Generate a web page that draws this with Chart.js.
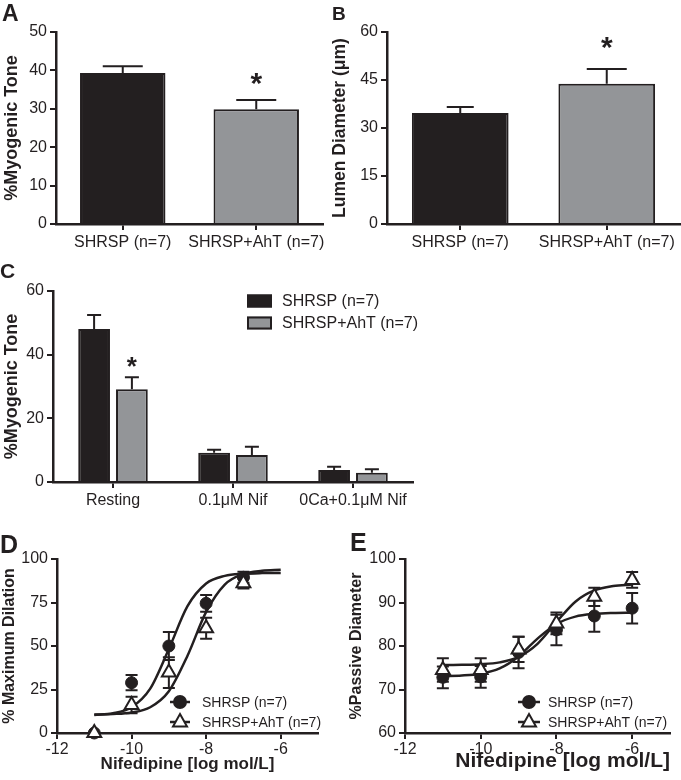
<!DOCTYPE html>
<html>
<head>
<meta charset="utf-8">
<script src="https://cdn.jsdelivr.net/npm/chart.js@4.4.0/dist/chart.umd.min.js"></script>
<style>
  body { margin: 0; background: #fff; }
  #fig { position: relative; width: 681px; height: 780px; overflow: hidden; background: #fff;
         font-family: "Liberation Sans", Arial, sans-serif; color: #231f20; }
  #fig canvas { position: absolute; }
  .letter { position: absolute; font-weight: bold; line-height: 1; }
</style>
</head>
<body>
<div id="fig">
  <canvas id="chartA" width="330" height="262" style="left:0;top:0"></canvas>
  <canvas id="chartB" width="351" height="262" style="left:330px;top:0"></canvas>
  <canvas id="chartC" width="681" height="262" style="left:0;top:262px"></canvas>
  <canvas id="chartD" width="340" height="256" style="left:0;top:524px"></canvas>
  <canvas id="chartE" width="341" height="256" style="left:340px;top:524px"></canvas>
  <div class="letter" style="left:2px;top:2px;font-size:23px">A</div>
  <div class="letter" style="left:332px;top:4px;font-size:19px">B</div>
  <div class="letter" style="left:0px;top:260px;font-size:21px">C</div>
  <div class="letter" style="left:0px;top:532px;font-size:25px">D</div>
  <div class="letter" style="left:350px;top:530px;font-size:25px">E</div>
</div>
<script>
// ---- data ----
const groupLabels = ["SHRSP (n=7)", "SHRSP+AhT (n=7)"];

// A: % myogenic tone
const toneA = [39.3, 29.9];
const toneAErr = [1.8, 2.4];

// B: lumen diameter (um)
const diamB = [34.7, 43.8];
const diamBErr = [1.9, 4.6];

// C: % myogenic tone by condition
const condLabels = ["Resting", "0.1\u03bcM Nif", "0Ca+0.1\u03bcM Nif"];
const toneShrsp = [48.1, 9.2, 3.8];
const toneShrspErr = [4.4, 0.9, 1.0];
const toneAht = [29.1, 8.5, 2.9];
const toneAhtErr = [3.8, 2.6, 1.1];

// D: % maximum dilation vs nifedipine
const doseD = [-11, -10, -9, -8, -7];
const dilShrsp = [0, 28.9, 50, 74.5, 89.5];
const dilShrspErr = [0, 4.4, 8, 4.8, 3.2];
const dilAht = [0, 16.1, 34.7, 60.2, 86];
const dilAhtErr = [0, 4.8, 8.8, 6, 3];

// E: % passive diameter vs nifedipine
const doseE = [-11, -10, -9, -8, -7, -6];
const passShrsp = [72.8, 72.9, 78.5, 83.7, 86.9, 88.7];
const passShrspErr = [2.5, 2.5, 3.6, 3.5, 3.6, 3.5];
const passAht = [74.5, 74.5, 79.2, 85.2, 91.3, 95.2];
const passAhtErr = [2.7, 2.7, 2.9, 2.5, 2.1, 1.8];

// fitted curves, read at half-log steps
const fitX = [-11, -10.5, -10, -9.5, -9, -8.5, -8, -7.5, -7, -6.5, -6];
const fitDShrsp = [10.4, 11.3, 14.8, 25.5, 48.3, 72.9, 85.9, 90.3, 91.5, 91.9, 92];
const fitDAht = [10.6, 10.9, 11.8, 14.8, 24.0, 44.4, 69.6, 85.3, 91.4, 93.2, 93.8];
const fitEShrsp = [73.07, 73.21, 73.64, 74.86, 77.61, 81.7, 85.06, 86.75, 87.38, 87.6, 87.67];
const fitEAht = [75.62, 75.67, 75.81, 76.24, 77.49, 80.5, 85.49, 90.19, 92.77, 93.79, 94.13];

const doseTicks = [-12, -10, -8, -6];

// ---- styles ----
const ink = "#231f20";
const black = "#231f20";
const gray = "#939598";
const fontFam = '"Liberation Sans", Arial, sans-serif';

Chart.defaults.font.family = fontFam;
Chart.defaults.font.size = 16;
Chart.defaults.color = ink;

function pairs(xs, ys) {
  return xs.map((x, i) => ({ x: x, y: ys[i] }));
}

// error bars (and significance stars) drawn from each dataset's own errors
const errorBars = {
  id: "errorBars",
  beforeDatasetsDraw(chart) {
    const ctx = chart.ctx;
    chart.data.datasets.forEach((ds, i) => {
      if (!ds.errors) return;
      const meta = chart.getDatasetMeta(i);
      const yScale = chart.scales[meta.yAxisID];
      meta.data.forEach((el, j) => {
        const err = ds.errors[j];
        const raw = ds.data[j];
        const v = typeof raw === "object" ? raw.y : raw;
        const x = el.x;
        const cap = Array.isArray(ds.capHalf) ? ds.capHalf[j] : ds.capHalf;
        let top = yScale.getPixelForValue(v + err);
        ctx.save();
        ctx.strokeStyle = ink;
        ctx.lineWidth = 2;
        if (err) {
          const bottom = ds.upOnly ? el.y : yScale.getPixelForValue(v - err);
          ctx.beginPath();
          ctx.moveTo(x, bottom);
          ctx.lineTo(x, top);
          ctx.moveTo(x - cap, top);
          ctx.lineTo(x + cap, top);
          if (!ds.upOnly) {
            ctx.moveTo(x - cap, bottom);
            ctx.lineTo(x + cap, bottom);
          }
          ctx.stroke();
        }
        if (ds.stars && ds.stars[j]) {
          ctx.font = ds.starFont;
          ctx.fillStyle = ink;
          ctx.textAlign = "center";
          ctx.textBaseline = "alphabetic";
          const m = ctx.measureText("*");
          const cy = top - ds.starGap;
          ctx.fillText("*", x, cy + (m.actualBoundingBoxAscent - m.actualBoundingBoxDescent) / 2);
        }
        ctx.restore();
      });
    });
  }
};

// box legend for panel C
const boxLegend = {
  id: "boxLegend",
  afterDraw(chart, args, opts) {
    if (!opts.show) return;
    const ctx = chart.ctx;
    chart.data.datasets.forEach((ds, i) => {
      const y = opts.y + i * opts.rowH;
      ctx.save();
      ctx.fillStyle = ds.backgroundColor;
      ctx.fillRect(opts.x, y - opts.boxH / 2, opts.boxW, opts.boxH);
      ctx.strokeStyle = ink;
      ctx.lineWidth = 2;
      ctx.strokeRect(opts.x + 1, y - opts.boxH / 2 + 1, opts.boxW - 2, opts.boxH - 2);
      ctx.fillStyle = ink;
      ctx.font = opts.font;
      ctx.textBaseline = "middle";
      ctx.fillText(ds.label, opts.x + opts.textOff, y + 1);
      ctx.restore();
    });
  }
};

function drawMarker(ctx, style, x, y, r, fill) {
  ctx.beginPath();
  if (style === "triangle") {
    const side = r * 1.75;
    ctx.moveTo(x, y - r);
    ctx.lineTo(x + side / 2, y + r * 0.55);
    ctx.lineTo(x - side / 2, y + r * 0.55);
    ctx.closePath();
  } else {
    ctx.arc(x, y, r, 0, Math.PI * 2);
  }
  ctx.fillStyle = fill;
  ctx.fill();
  ctx.lineWidth = 2;
  ctx.strokeStyle = ink;
  ctx.stroke();
}

// line + marker legend for panels D and E
const markerLegend = {
  id: "markerLegend",
  afterDraw(chart, args, opts) {
    if (!opts.show) return;
    const ctx = chart.ctx;
    let row = 0;
    chart.data.datasets.forEach((ds) => {
      if (!ds.label) return;
      const y = opts.y + row * opts.rowH;
      ctx.save();
      ctx.strokeStyle = ink;
      ctx.lineWidth = 2.5;
      ctx.beginPath();
      ctx.moveTo(opts.x, y);
      ctx.lineTo(opts.x + opts.lineLen, y);
      ctx.stroke();
      drawMarker(ctx, ds.pointStyle, opts.x + opts.lineLen / 2, y, ds.legendR, ds.pointBackgroundColor);
      ctx.fillStyle = ink;
      ctx.font = opts.font;
      ctx.textBaseline = "middle";
      ctx.fillText(ds.label, opts.x + opts.textOff, y + 1);
      ctx.restore();
      row++;
    });
  }
};

function valueAxis(min, max, step, title, width, titleSize, titlePad) {
  return {
    min: min,
    max: max,
    ticks: { stepSize: step, padding: 3, color: ink, font: { size: 16 } },
    grid: { display: true, drawOnChartArea: false, drawTicks: true, tickLength: 6, lineWidth: 2, color: ink },
    border: { display: true, width: 2.5, color: ink },
    title: { display: true, text: title, color: ink, font: { size: titleSize, weight: "bold" }, padding: { top: titlePad, bottom: 0 } },
    afterFit(scale) { scale.width = width; }
  };
}

function categoryAxis(height) {
  return {
    offset: true,
    ticks: { padding: 3, color: ink, font: { size: 16 }, maxRotation: 0, minRotation: 0, autoSkip: false },
    grid: { display: true, offset: false, drawOnChartArea: false, drawTicks: true, tickLength: 6, lineWidth: 2, color: ink },
    border: { display: true, width: 2.5, color: ink },
    afterFit(scale) { scale.height = height; }
  };
}

function doseAxis(height, titleSize, titleAlign, titlePad) {
  return {
    type: "linear",
    min: -12,
    max: -5,
    afterBuildTicks(scale) { scale.ticks = doseTicks.map(v => ({ value: v })); },
    ticks: { padding: 1, color: ink, font: { size: 16 } },
    grid: { display: true, drawOnChartArea: false, drawTicks: true, tickLength: 6, lineWidth: 2, color: ink },
    border: { display: true, width: 2.5, color: ink },
    title: { display: true, text: "Nifedipine [log mol/L]", align: titleAlign, color: ink, font: { size: titleSize, weight: "bold" }, padding: { top: 0, bottom: titlePad } },
    afterFit(scale) { scale.height = height; }
  };
}

function baseOptions(padding, xAxis, yAxis, extraPlugins) {
  return {
    responsive: false,
    animation: false,
    layout: { padding: padding },
    scales: { x: xAxis, y: yAxis },
    plugins: Object.assign({ legend: { display: false }, tooltip: { enabled: false } }, extraPlugins || {})
  };
}

// ---- panel A ----
new Chart(document.getElementById("chartA"), {
  type: "bar",
  data: {
    labels: groupLabels,
    datasets: [{
      data: toneA, errors: toneAErr, upOnly: true, capHalf: 20,
      stars: [false, true], starFont: "bold 30px " + fontFam, starGap: 21,
      backgroundColor: [black, gray], borderColor: ink, borderWidth: 2,
      barPercentage: 0.64, categoryPercentage: 1
    }]
  },
  options: baseOptions({ top: 32, right: 7, left: 0, bottom: 0 },
    categoryAxis(38), valueAxis(0, 50, 10, "%Myogenic Tone", 56, 18, 1)),
  plugins: [errorBars]
});

// ---- panel B ----
new Chart(document.getElementById("chartB"), {
  type: "bar",
  data: {
    labels: groupLabels,
    datasets: [{
      data: diamB, errors: diamBErr, upOnly: true, capHalf: [13.5, 20],
      stars: [false, true], starFont: "bold 30px " + fontFam, starGap: 26,
      backgroundColor: [black, gray], borderColor: ink, borderWidth: 2,
      barPercentage: 0.66, categoryPercentage: 1
    }]
  },
  options: baseOptions({ top: 32, right: 1, left: 0, bottom: 0 },
    categoryAxis(38), valueAxis(0, 60, 15, "Lumen Diameter (\u03bcm)", 57, 17.5, 0)),
  plugins: [errorBars]
});

// ---- panel C ----
new Chart(document.getElementById("chartC"), {
  type: "bar",
  data: {
    labels: condLabels,
    datasets: [
      { label: "SHRSP (n=7)", data: toneShrsp, errors: toneShrspErr, upOnly: true, capHalf: 7,
        backgroundColor: black, borderColor: ink, borderWidth: 2,
        barPercentage: 0.84, categoryPercentage: 0.63 },
      { label: "SHRSP+AhT (n=7)", data: toneAht, errors: toneAhtErr, upOnly: true, capHalf: 7,
        stars: [true, false, false], starFont: "bold 26px " + fontFam, starGap: 15,
        backgroundColor: gray, borderColor: ink, borderWidth: 2,
        barPercentage: 0.84, categoryPercentage: 0.63 }
    ]
  },
  options: baseOptions({ top: 29, right: 268, left: 0, bottom: 0 },
    categoryAxis(42), valueAxis(0, 60, 20, "%Myogenic Tone", 53, 18, 1),
    { boxLegend: { show: true, x: 247, y: 39, rowH: 22, boxW: 25, boxH: 13, textOff: 35, font: "16px " + fontFam } }),
  plugins: [errorBars, boxLegend]
});

// ---- panels D and E (dose response) ----
function doseDatasets(xs, shrsp, shrspErr, aht, ahtErr, fitS, fitA) {
  return [
    { label: "SHRSP (n=7)", data: pairs(xs, shrsp), errors: shrspErr, capHalf: 6, order: 2, clip: false,
      showLine: false, pointStyle: "circle", pointRadius: 6, legendR: 6,
      pointBackgroundColor: ink, pointBorderColor: ink, pointBorderWidth: 1 },
    { label: "SHRSP+AhT (n=7)", data: pairs(xs, aht), errors: ahtErr, capHalf: 6, order: 1, clip: false,
      showLine: false, pointStyle: "triangle", pointRadius: 8, legendR: 8,
      pointBackgroundColor: "#ffffff", pointBorderColor: ink, pointBorderWidth: 2 },
    { data: pairs(fitX, fitS), showLine: true, pointRadius: 0, borderColor: ink, borderWidth: 2.5,
      cubicInterpolationMode: "monotone", tension: 0.4, order: 5 },
    { data: pairs(fitX, fitA), showLine: true, pointRadius: 0, borderColor: ink, borderWidth: 2.5,
      cubicInterpolationMode: "monotone", tension: 0.4, order: 5 }
  ];
}

new Chart(document.getElementById("chartD"), {
  type: "scatter",
  data: { datasets: doseDatasets(doseD, dilShrsp, dilShrspErr, dilAht, dilAhtErr, fitDShrsp, fitDAht) },
  options: baseOptions({ top: 35, right: 22, left: 0, bottom: 0 },
    doseAxis(47, 17, "center", 5), valueAxis(0, 100, 25, "% Maximum Dilation", 57, 16, 0),
    { markerLegend: { show: true, x: 170, y: 178, rowH: 20, lineLen: 20, textOff: 32, font: "14px " + fontFam } }),
  plugins: [errorBars, markerLegend]
});

new Chart(document.getElementById("chartE"), {
  type: "scatter",
  data: { datasets: doseDatasets(doseE, passShrsp, passShrspErr, passAht, passAhtErr, fitEShrsp, fitEAht) },
  options: baseOptions({ top: 35, right: 11, left: 0, bottom: 0 },
    doseAxis(47, 21, "end", 6), valueAxis(60, 100, 10, "%Passive Diameter", 65, 16, 7),
    { markerLegend: { show: true, x: 178, y: 178, rowH: 20, lineLen: 22, textOff: 30, font: "14px " + fontFam } }),
  plugins: [errorBars, markerLegend]
});
</script>
</body>
</html>
